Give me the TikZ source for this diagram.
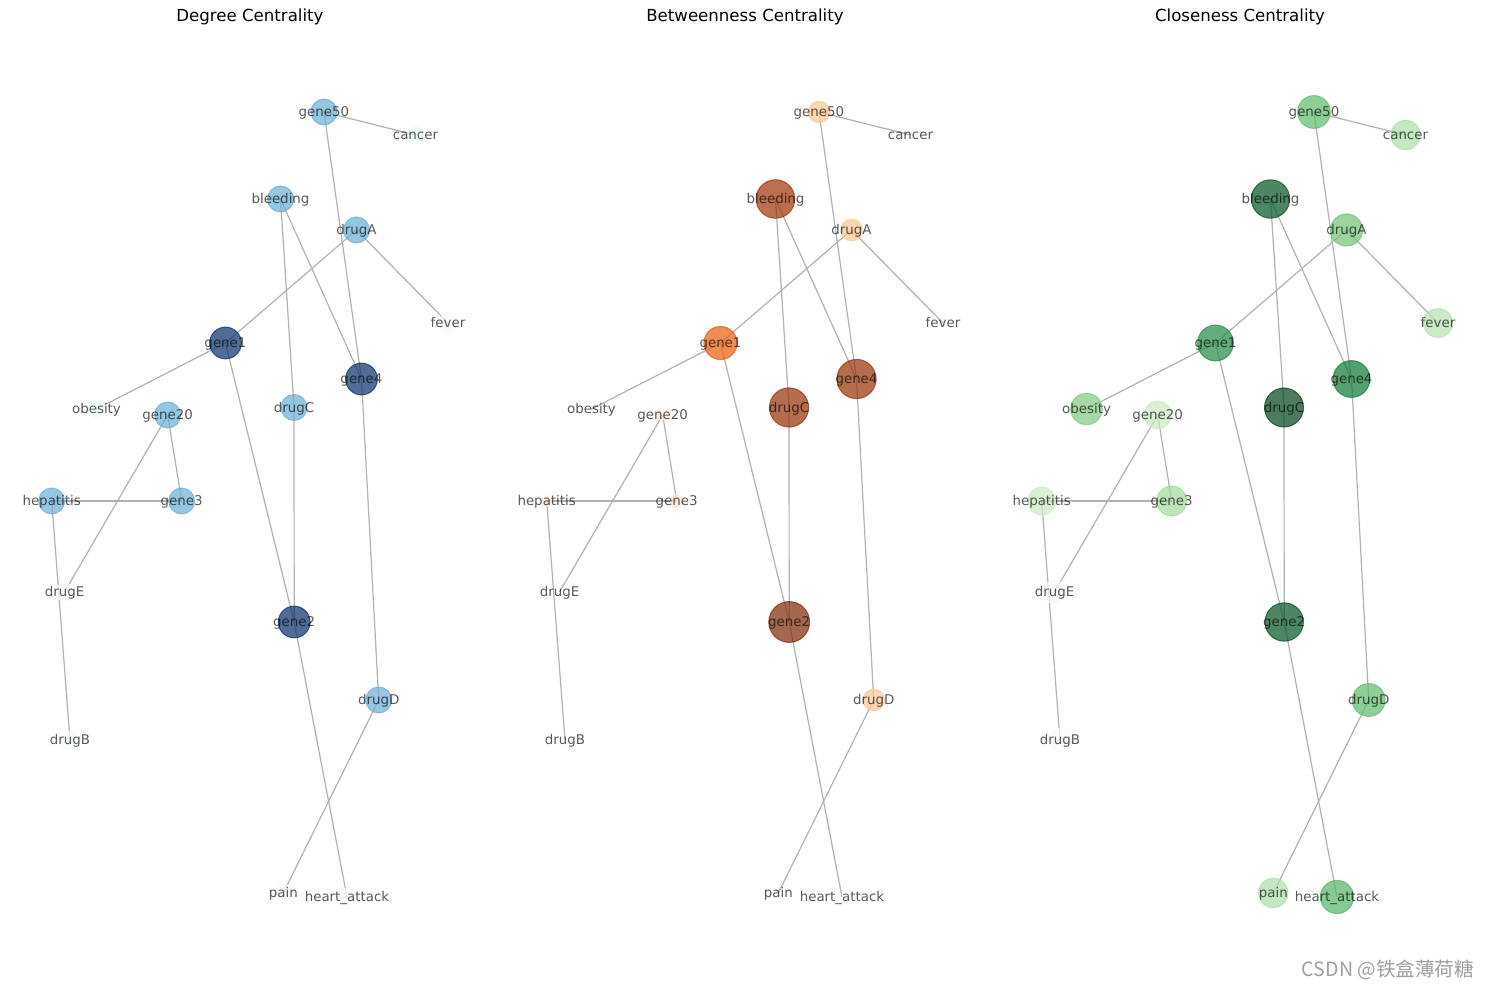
\documentclass[tikz,border=0pt]{standalone}
\usepackage{fontspec}
\setmainfont{DejaVu Sans}
\newfontfamily\cjk{Noto Sans CJK SC}
\pgfdeclarelayer{bg}
\pgfdeclarelayer{edges}
\pgfsetlayers{bg,edges,main}
% Blues (degree)
\definecolor{Da}{RGB}{247,251,255}
\definecolor{Db}{RGB}{107,174,214}
\definecolor{Dc}{RGB}{8,48,107}
% Oranges (betweenness)
\definecolor{Ogenetwo}{RGB}{127,39,4}
\definecolor{Ofour}{RGB}{151,48,3}
\definecolor{Obleed}{RGB}{159,51,3}
\definecolor{Oone}{RGB}{233,94,13}
\definecolor{Omid}{RGB}{253,199,148}
\definecolor{Othree}{RGB}{254,233,211}
\definecolor{Olow}{RGB}{254,236,217}
% Greens (closeness)
\definecolor{Gtop}{RGB}{0,68,27}
\definecolor{Gnext}{RGB}{0,83,33}
\definecolor{Gfour}{RGB}{13,120,53}
\definecolor{Gone}{RGB}{34,138,68}
\definecolor{Gha}{RGB}{85,181,103}
\definecolor{Gfifty}{RGB}{95,186,108}
\definecolor{GdrugA}{RGB}{114,195,117}
\definecolor{Gob}{RGB}{130,202,129}
\definecolor{Gthree}{RGB}{163,218,157}
\definecolor{Gcan}{RGB}{173,222,167}
\definecolor{Gfev}{RGB}{183,226,176}
\definecolor{Gtw}{RGB}{202,234,195}
\definecolor{Gmin}{RGB}{247,252,245}
\definecolor{edgegray}{RGB}{178,178,178}
\definecolor{markgray}{RGB}{160,160,160}
\tikzset{
  gn/.style={circle, inner sep=0pt, outer sep=0pt, fill opacity=0.7, draw opacity=0.7, line width=0.5pt},
  lbl/.style={font=\fontsize{6.7}{7}\selectfont, text=black, text opacity=0.65, inner sep=0pt, text height=1.45ex, text depth=0.35ex, yshift=0.6pt},
  ttl/.style={font=\fontsize{8.3}{10}\selectfont, text=black, inner sep=0pt},
  edge/.style={draw=edgegray, line width=0.6pt},
}
\newcommand\gnd[6]{%
  \node[gn, minimum size=#4pt, fill=#5, draw=#5] (#1) at (#2,#3) {};
  \node[lbl] at (#1.center) {#6};}
\newcommand\gco[4]{%
  \coordinate (#1) at (#2,#3);
  \node[lbl] at (#1) {#4};}
\begin{document}
\begin{tikzpicture}[x=0.5pt,y=-0.5pt]
\useasboundingbox (0,0) rectangle (1489,989);
\begin{pgfonlayer}{bg}
\fill[white] (0,0) rectangle (1489,989);
\end{pgfonlayer}
% titles
\node[ttl] (t1) at (250,17) {Degree Centrality};
\node[ttl] (t2) at (745,17) {Betweenness Centrality};
\node[ttl] (t3) at (1240,17) {Closeness Centrality};
% ---------- Degree panel ----------
\begin{scope}
\gnd{d-gene50}{324}{112}{13}{Db}{gene50}
\gnd{d-cancer}{415.5}{135}{9.1}{Da}{cancer}
\gnd{d-bleeding}{280.5}{199}{13}{Db}{bleeding}
\gnd{d-drugA}{356.5}{230}{13}{Db}{drugA}
\gnd{d-fever}{448}{323}{9.1}{Da}{fever}
\gnd{d-gene1}{225.5}{343}{15.9}{Dc}{gene1}
\gnd{d-gene4}{361.5}{379}{15.9}{Dc}{gene4}
\gnd{d-obesity}{96.5}{409}{9.1}{Da}{obesity}
\gnd{d-gene20}{167.7}{415}{13}{Db}{gene20}
\gnd{d-drugC}{294}{407.5}{13}{Db}{drugC}
\gnd{d-hepatitis}{51.7}{501}{13}{Db}{hepatitis}
\gnd{d-gene3}{181.7}{501}{13}{Db}{gene3}
\gnd{d-drugE}{64.5}{592}{9.1}{Da}{drugE}
\gnd{d-gene2}{294.2}{622}{15.9}{Dc}{gene2}
\gnd{d-drugD}{378.7}{700}{13}{Db}{drugD}
\gnd{d-drugB}{70}{740}{9.1}{Da}{drugB}
\gnd{d-pain}{283.3}{893}{9.1}{Da}{pain}
\gnd{d-heartattack}{347}{897}{9.1}{Da}{heart\_attack}
\end{scope}
% ---------- Betweenness panel ----------
\begin{scope}[xshift=247.5pt]
\gnd{b-gene50}{324}{112}{10.8}{Omid}{gene50}
\gco{b-cancer}{415.5}{135}{cancer}
\gnd{b-bleeding}{280.5}{199}{19.3}{Obleed}{bleeding}
\gnd{b-drugA}{356.5}{230}{10.8}{Omid}{drugA}
\gco{b-fever}{448}{323}{fever}
\gnd{b-gene1}{225.5}{343}{16.6}{Oone}{gene1}
\gnd{b-gene4}{361.5}{379}{19.6}{Ofour}{gene4}
\gco{b-obesity}{96.5}{409}{obesity}
\gnd{b-gene20}{167.7}{415}{5.6}{Olow}{gene20}
\gnd{b-drugC}{294}{407.5}{19.6}{Ofour}{drugC}
\gnd{b-hepatitis}{51.7}{501}{5.6}{Olow}{hepatitis}
\gnd{b-gene3}{181.7}{501}{6.5}{Othree}{gene3}
\gco{b-drugE}{64.5}{592}{drugE}
\gnd{b-gene2}{294.2}{622}{20.4}{Ogenetwo}{gene2}
\gnd{b-drugD}{378.7}{700}{10.8}{Omid}{drugD}
\gco{b-drugB}{70}{740}{drugB}
\gco{b-pain}{283.3}{893}{pain}
\gco{b-heartattack}{347}{897}{heart\_attack}
\end{scope}
% ---------- Closeness panel ----------
\begin{scope}[xshift=495pt]
\gnd{c-gene50}{324}{112}{16.4}{Gfifty}{gene50}
\gnd{c-cancer}{415.5}{135}{14.7}{Gcan}{cancer}
\gnd{c-bleeding}{280.5}{199}{19.2}{Gnext}{bleeding}
\gnd{c-drugA}{356.5}{230}{16.1}{GdrugA}{drugA}
\gnd{c-fever}{448}{323}{14.5}{Gfev}{fever}
\gnd{c-gene1}{225.5}{343}{17.9}{Gone}{gene1}
\gnd{c-gene4}{361.5}{379}{18.4}{Gfour}{gene4}
\gnd{c-obesity}{96.5}{409}{15.8}{Gob}{obesity}
\gnd{c-gene20}{167.7}{415}{13.9}{Gtw}{gene20}
\gnd{c-drugC}{294}{407.5}{19.5}{Gtop}{drugC}
\gnd{c-hepatitis}{51.7}{501}{13.9}{Gtw}{hepatitis}
\gnd{c-gene3}{181.7}{501}{15}{Gthree}{gene3}
\gnd{c-drugE}{64.5}{592}{11.6}{Gmin}{drugE}
\gnd{c-gene2}{294.2}{622}{19.2}{Gnext}{gene2}
\gnd{c-drugD}{378.7}{700}{16.4}{Gfifty}{drugD}
\gnd{c-drugB}{70}{740}{11.6}{Gmin}{drugB}
\gnd{c-pain}{283.3}{893}{14.7}{Gcan}{pain}
\gnd{c-heartattack}{347}{897}{16.6}{Gha}{heart\_attack}
\end{scope}
% ---------- edges ----------
\begin{pgfonlayer}{edges}
\foreach \p in {d,b,c}{
  \foreach \u/\v in {gene50/cancer, gene50/gene4, bleeding/drugC, bleeding/gene4,
      drugA/gene1, drugA/fever, gene1/obesity, gene1/gene2, gene4/drugD,
      drugC/gene2, gene20/gene3, gene20/drugE, hepatitis/gene3, hepatitis/drugB,
      gene2/heartattack, drugD/pain}
    \draw[edge] (\p-\u.center) -- (\p-\v.center);
}
\end{pgfonlayer}
% watermark
\node[font=\cjk\fontsize{9.8}{11}\selectfont, text=markgray, inner sep=0pt] (wm) at (1388,970) {CSDN @铁盒薄荷糖};
\end{tikzpicture}
\end{document}
